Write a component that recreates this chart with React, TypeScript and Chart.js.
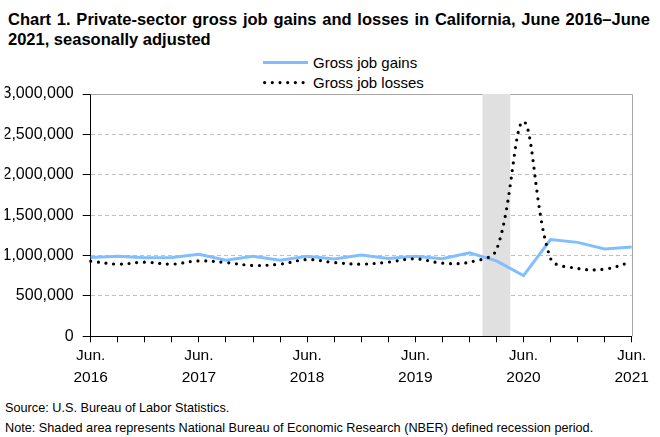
import React, { useEffect, useRef } from "react";
import { Chart, registerables } from "chart.js";

Chart.register(...registerables);

const titleText =
  "Chart 1. Private-sector gross job gains and losses in California, June 2016–June 2021, seasonally adjusted";
const sourceText = "Source: U.S. Bureau of Labor Statistics.";
const noteText =
  "Note: Shaded area represents National Bureau of Economic Research (NBER) defined recession period.";

const quarters = [
  "Jun. 2016", "Sep. 2016", "Dec. 2016", "Mar. 2017",
  "Jun. 2017", "Sep. 2017", "Dec. 2017", "Mar. 2018",
  "Jun. 2018", "Sep. 2018", "Dec. 2018", "Mar. 2019",
  "Jun. 2019", "Sep. 2019", "Dec. 2019", "Mar. 2020",
  "Jun. 2020", "Sep. 2020", "Dec. 2020", "Mar. 2021",
  "Jun. 2021",
];

const grossJobGains = [
  975000, 991000, 971000, 975000,
  1016000, 942000, 991000, 942000,
  991000, 956000, 1005000, 963000,
  991000, 959000, 1033000, 934000,
  752000, 1198000, 1163000, 1080000,
  1105000,
];

const grossJobLosses = [
  930000, 893000, 918000, 893000,
  934000, 913000, 877000, 893000,
  950000, 913000, 893000, 918000,
  959000, 905000, 918000, 1070000,
  2660000, 965000, 840000, 831000,
  922000,
];

const recessionQuarters = ["Mar. 2020"];
const labelMonth = "Jun.";

const seriesNames = ["Gross job gains", "Gross job losses"];
const seriesColors = ["#80BFFF", "#000000"];

const yMin = 0;
const yMax = 3000000;
const yStep = 500000;

const FONT = "'Liberation Sans', Arial, sans-serif";

const plotFrame = {
  id: "plotFrame",
  beforeDatasetsDraw(chart: any) {
    const { ctx, chartArea: a } = chart;
    ctx.save();
    ctx.strokeStyle = "#A6A6A6";
    ctx.lineWidth = 1;
    ctx.beginPath();
    ctx.moveTo(a.left, Math.round(a.top) + 0.5);
    ctx.lineTo(Math.round(a.right) + 0.5, Math.round(a.top) + 0.5);
    ctx.lineTo(Math.round(a.right) + 0.5, a.bottom);
    ctx.stroke();
    ctx.restore();
  },
};

function LegendRow({ index, top }: { index: number; top: number }) {
  const dotted = index === 1;
  return (
    <div style={{ position: "absolute", left: 263, top, height: 20, width: 200 }}>
      <svg width={46} height={20} style={{ position: "absolute", left: 0, top: 0 }}>
        {dotted ? (
          <line
            x1={1.6}
            y1={9.6}
            x2={45}
            y2={9.6}
            stroke={seriesColors[index]}
            strokeWidth={3.2}
            strokeLinecap="round"
            strokeDasharray="0 7.7"
          />
        ) : (
          <line x1={0} y1={9.6} x2={45} y2={9.6} stroke={seriesColors[index]} strokeWidth={3} />
        )}
      </svg>
      <span
        style={{
          position: "absolute",
          left: 50,
          top: 0,
          font: `15px ${FONT}`,
          lineHeight: "20px",
          color: "#000",
          whiteSpace: "nowrap",
        }}
      >
        {seriesNames[index]}
      </span>
    </div>
  );
}

export default function App() {
  const canvasRef = useRef<HTMLCanvasElement | null>(null);

  useEffect(() => {
    if (!canvasRef.current) return;
    const chart = new Chart(canvasRef.current, {
      type: "line",
      data: {
        labels: quarters,
        datasets: [
          {
            type: "line",
            label: seriesNames[0],
            data: grossJobGains,
            borderColor: seriesColors[0],
            backgroundColor: seriesColors[0],
            borderWidth: 3,
            pointRadius: 0,
            tension: 0,
            order: 1,
          },
          {
            type: "line",
            label: seriesNames[1],
            data: grossJobLosses,
            borderColor: seriesColors[1],
            backgroundColor: seriesColors[1],
            borderWidth: 3.2,
            borderDash: [0, 7.7],
            borderCapStyle: "round",
            pointRadius: 0,
            tension: 0.35,
            order: 0,
          },
          {
            type: "bar",
            label: "Recession",
            data: quarters.map((q) => (recessionQuarters.includes(q) ? yMax : null)),
            backgroundColor: "#E0E0E0",
            borderWidth: 0,
            barPercentage: 1,
            categoryPercentage: 1,
            order: 2,
          } as any,
        ],
      },
      options: {
        responsive: false,
        animation: false,
        events: [],
        layout: { padding: { top: 94, left: 4.7, right: 28.3, bottom: 4.7 } },
        plugins: {
          legend: { display: false },
          title: { display: false },
          tooltip: { enabled: false },
        },
        scales: {
          x: {
            type: "category",
            offset: false,
            grid: {
              offset: false,
              drawOnChartArea: false,
              drawTicks: true,
              tickLength: 6,
              tickColor: "#000",
              color: "#000",
            },
            border: { display: true, color: "#000", width: 1 },
            ticks: {
              autoSkip: false,
              maxRotation: 0,
              minRotation: 0,
              padding: 2,
              color: "#000",
              font: { family: FONT, size: 15.5, lineHeight: 1.42 },
              callback: (_v: any, i: number) => {
                const q = quarters[i];
                if (!q) return "";
                const [m, y] = q.split(" ");
                return m === labelMonth ? [m, y] : "";
              },
            },
          },
          y: {
            min: yMin,
            max: yMax,
            afterFit: (scale: any) => {
              scale.width = 86;
            },
            grid: {
              color: "#BFBFBF",
              lineWidth: 1,
              tickColor: "#000",
              tickLength: 8,
              tickBorderDash: [],
            },
            border: { display: true, color: "#000", width: 1, dash: [4, 3] },
            ticks: {
              stepSize: yStep,
              padding: 9,
              color: "#000",
              font: { family: FONT, size: 16 },
              callback: (v: any) => Number(v).toLocaleString("en-US"),
            },
          },
        },
      },
      plugins: [plotFrame],
    });
    return () => chart.destroy();
  }, []);

  return (
    <div
      style={{
        position: "absolute",
        left: 0,
        top: 0,
        width: 660,
        height: 437,
        background: "#fff",
        overflow: "hidden",
      }}
    >
      <div
        style={{
          position: "absolute",
          left: 8,
          top: 9,
          width: 642,
          font: `bold 16.5px ${FONT}`,
          lineHeight: "20px",
          textAlign: "justify",
          color: "#000",
        }}
      >
        {titleText}
      </div>
      <LegendRow index={0} top={53} />
      <LegendRow index={1} top={73} />
      <canvas
        ref={canvasRef}
        width={660}
        height={395}
        style={{ position: "absolute", left: 0, top: 0, width: 660, height: 395 }}
      />
      <div
        style={{
          position: "absolute",
          left: 5,
          top: 398,
          font: `12.7px ${FONT}`,
          lineHeight: "20px",
          color: "#000",
          whiteSpace: "nowrap",
        }}
      >
        <div>{sourceText}</div>
        <div>{noteText}</div>
      </div>
    </div>
  );
}
